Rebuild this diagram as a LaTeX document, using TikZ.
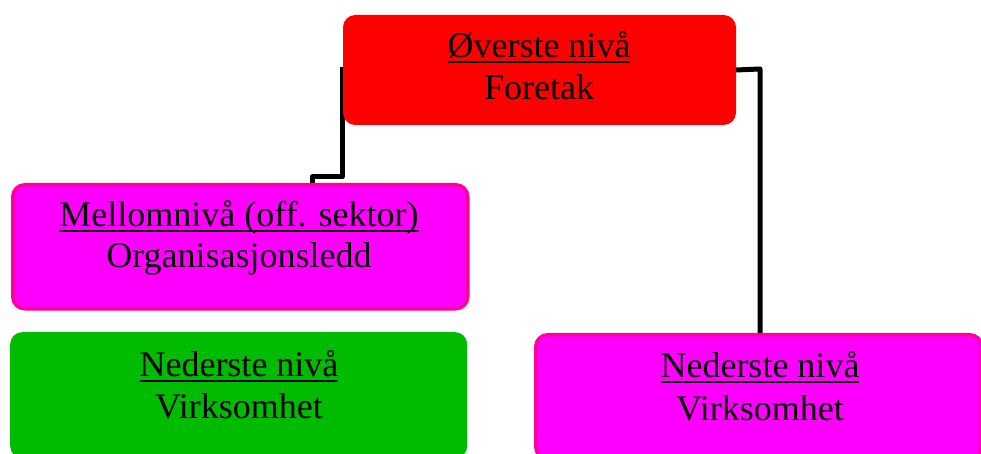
\documentclass[tikz,border=0pt]{standalone}
\usepackage{fontspec}
\setmainfont{Liberation Serif}
\usetikzlibrary{backgrounds}
\definecolor{boxred}{RGB}{255,0,0}
\definecolor{boxmag}{RGB}{255,0,255}
\definecolor{boxpink}{RGB}{255,0,153}
\definecolor{boxgreen}{RGB}{0,187,0}
\newcommand\myul[1]{\setbox0=\hbox{#1}\rlap{\rule[-5bp]{\wd0}{2bp}}\box0}
\begin{document}
\begin{tikzpicture}[x=1bp,y=-1bp,
  box/.style={rectangle,rounded corners=12bp,inner sep=0pt,anchor=north west},
  txt/.style={anchor=base,inner sep=0pt,font=\fontsize{36bp}{43bp}\selectfont},
  conn/.style={line width=5bp,line join=round,line cap=butt,black}]
\useasboundingbox (0,0) rectangle (981,454);
% boxes
\node[box,fill=boxred,draw=boxred,line width=1bp,minimum width=392bp,minimum height=109bp] (top) at (343,15) {};
\node[box,fill=boxmag,draw=boxpink,line width=3.5bp,minimum width=455bp,minimum height=124bp] (mid) at (11,183) {};
\node[box,fill=boxgreen,minimum width=457bp,minimum height=126bp] (gl) at (10,332) {};
\node[box,fill=boxmag,draw=boxpink,line width=3.5bp,minimum width=446bp,minimum height=124bp] (rb) at (534,333) {};
% texts
\node[txt] (topA) at (539,58) {\myul{Øverste nivå}};
\node[txt] (topB) at (539,100) {Foretak};
\node[txt] (midA) at (239,227) {\myul{Mellomnivå (off. sektor)}};
\node[txt] (midB) at (239,268) {Organisasjonsledd};
\node[txt] (glA) at (239,377) {\myul{Nederste nivå}};
\node[txt] (glB) at (239,418) {Virksomhet};
\node[txt] (rbA) at (760,378) {\myul{Nederste nivå}};
\node[txt] (rbB) at (760,420) {Virksomhet};
% connectors
\coordinate (j) at (312,177);
\coordinate (k) at (760,69);
\begin{scope}[on background layer]
\draw[conn] (342,67) coordinate (ls) -- (ls |- j) -- (j) -- (j |- mid.north);
\draw[conn] (top.east) -- (k) -- (k |- rb.north);
\end{scope}
\end{tikzpicture}
\end{document}
